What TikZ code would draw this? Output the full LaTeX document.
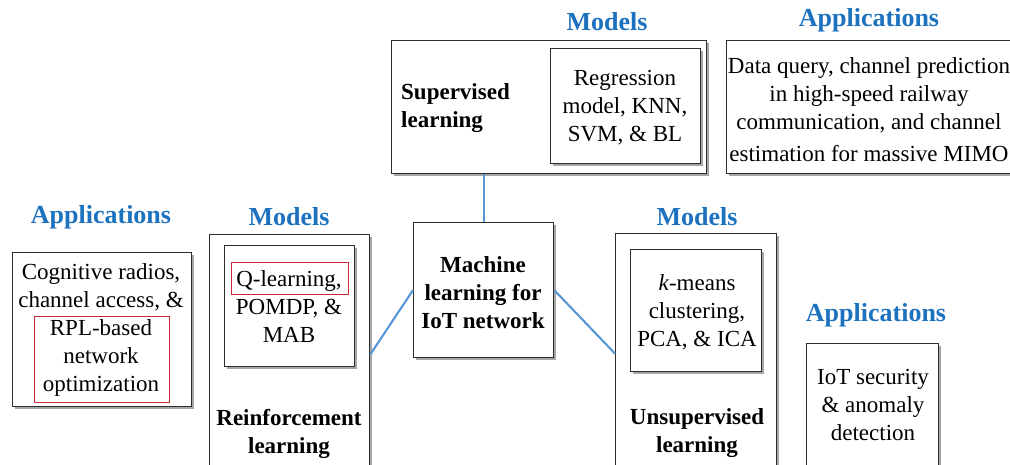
\documentclass[tikz,border=0pt]{standalone}
\usepackage{fontspec}
\setmainfont{Liberation Serif}
\usetikzlibrary{shadows}
\definecolor{ttl}{RGB}{28,114,190}
\definecolor{redb}{RGB}{200,45,55}
\definecolor{lnk}{RGB}{88,150,212}
\definecolor{edge}{RGB}{45,45,45}
\begin{document}
\begin{tikzpicture}[x=1pt,y=-1pt,
  box/.style={draw=edge, line width=1.2pt, fill=white, inner sep=0pt, anchor=north west,
    drop shadow={shadow xshift=2pt, shadow yshift=-2pt, fill=black, opacity=0.35}},
  redbox/.style={draw=redb, line width=1pt, inner sep=0pt, anchor=north west},
  title/.style={text=ttl, inner sep=0pt, font=\fontsize{26}{30}\selectfont\bfseries},
  body/.style={align=center, inner sep=0pt, font=\fontsize{23}{28}\selectfont},
  bbody/.style={align=center, inner sep=0pt, font=\fontsize{23}{28}\selectfont\bfseries},
  link/.style={draw=lnk, line width=2.1pt}]
\useasboundingbox (0,0) rectangle (1010,464);
% boxes
\node[box, minimum width=315pt, minimum height=133pt] (sup) at (391,40) {};
\node[box, minimum width=150pt, minimum height=115pt] (supin) at (550,48) {};
\node[box, minimum width=300pt, minimum height=133pt] (appT) at (726,40) {};
\node[box, minimum width=179pt, minimum height=154pt] (appL) at (12,252) {};
\node[box, minimum width=160pt, minimum height=240pt] (rl) at (209,234) {};
\node[box, minimum width=130pt, minimum height=121pt] (rlin) at (224,245) {};
\node[box, minimum width=140pt, minimum height=135pt] (ml) at (413,222) {};
\node[box, minimum width=161pt, minimum height=240pt] (ul) at (615,233) {};
\node[box, minimum width=131pt, minimum height=122pt] (ulin) at (630,249) {};
\node[box, minimum width=132pt, minimum height=130pt] (appR) at (806,343) {};
% red highlight boxes
\node[redbox, minimum width=135pt, minimum height=86pt] (rpl) at (34,316) {};
\node[redbox, minimum width=117pt, minimum height=32pt] (qred) at (231,262) {};
% titles
\node[title] (tAppL) at (101,217) {Applications};
\node[title] (tModL) at (289,217) {Models};
\node[title] (tModT) at (607,22) {Models};
\node[title] (tAppT) at (869,20) {Applications};
\node[title] (tModR) at (697,217) {Models};
\node[title] (tAppR) at (876,315) {Applications};
% texts
\node[body] (xAppL) at (101,330) {Cognitive radios,\\channel access, \&\\RPL-based\\network\\optimization};
\node[body] (xRLin) at (289,307) {Q-learning,\\POMDP, \&\\MAB};
\node[bbody] (xRL) at (289,434) {Reinforcement\\learning};
\node[bbody] (xML) at (483,293) {Machine\\learning for\\IoT network};
\node[body] (xULin) at (697,312) {\textit{k}-means\\clustering,\\PCA, \& ICA};
\node[bbody] (xUL) at (697,433) {Unsupervised\\learning};
\node[body] (xAppR) at (873,405) {IoT security\\\& anomaly\\detection};
\node[bbody, align=left, anchor=west] (xSup) at (401,108) {Supervised\\learning};
\node[body] (xSupin) at (625,108) {Regression\\model, KNN,\\SVM, \& BL};
\node[body] (xAppT) at (869,110) {Data query, channel prediction\\in high-speed railway\\communication, and channel\\[4pt]estimation for massive MIMO};
% connectors
\draw[link] (ml.north) -- (ml.north |- sup.south);
\draw[link] (rl.east) -- (ml.west);
\draw[link] (ml.east) -- (ul.west);
\end{tikzpicture}
\end{document}
